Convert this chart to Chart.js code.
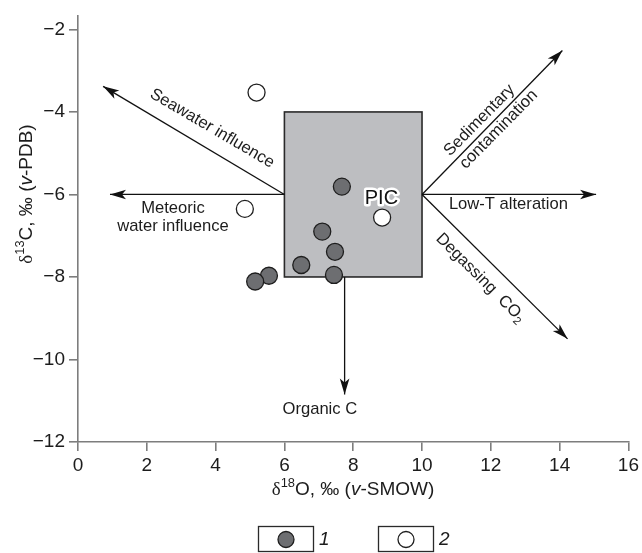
<!DOCTYPE html>
<html><head><meta charset="utf-8">
<script src="https://cdn.jsdelivr.net/npm/chart.js@4.4.0/dist/chart.umd.min.js"></script>
<style>html,body{margin:0;padding:0;background:#fff}canvas{display:block}</style>
</head><body>
<canvas id="c" width="642" height="553"></canvas>
<script>
// ---- data ----
const xTicks = [0, 2, 4, 6, 8, 10, 12, 14, 16];
const yTicks = [-12, -10, -8, -6, -4, -2];
const group1X = [7.67, 7.10, 7.47, 6.49, 7.44, 5.55, 5.15];
const group1Y = [-5.81, -6.90, -7.39, -7.71, -7.95, -7.97, -8.11];
const group2X = [5.19, 4.85, 8.84];
const group2Y = [-3.53, -6.35, -6.56];
const picBoxX = [6, 10];
const picBoxY = [-8, -4];
const arrowNames = ['Seawater influence', 'Meteoric water influence', 'Sedimentary contamination', 'Low-T alteration', 'Degassing CO2', 'Organic C'];
const arrowFromX = [6, 6, 10, 10, 10, 7.75];
const arrowFromY = [-6, -6, -6, -6, -6, -8];
const arrowToX = [0.73, 0.93, 14.08, 15.06, 14.23, 7.75];
const arrowToY = [-3.38, -6, -2.51, -6, -9.5, -10.85];
const legendLabels = ['1', '2'];

// ---- annotation text (data coords) ----
const notes = [
  {segs: [{t: 'Seawater influence'}], x: 3.92, y: -4.37, rot: 30.4},
  {segs: [{t: 'Meteoric'}], x: 2.76, y: -6.31, rot: 0},
  {segs: [{t: 'water influence'}], x: 2.76, y: -6.74, rot: 0},
  {segs: [{t: 'Sedimentary'}], x: 11.64, y: -4.18, rot: -45.5},
  {segs: [{t: 'contamination'}], x: 12.20, y: -4.40, rot: -45.5},
  {segs: [{t: 'Low-T alteration'}], x: 12.51, y: -6.20, rot: 0},
  {segs: [{t: 'Degassing  CO'}, {t: '2', sub: true}], x: 11.73, y: -8.0, rot: 45},
  {segs: [{t: 'Organic C'}], x: 7.03, y: -11.18, rot: 0}
];

const SANS = '"Liberation Sans", Arial, Helvetica, sans-serif';
const SERIF = '"Liberation Serif", "Times New Roman", serif';
const INK = '#1c1c1c';
const AXIS = '#7d7d7d';

function fontFor(s, size) {
  const sz = (s.sup || s.sub) ? size * 0.68 : size;
  return (s.i ? 'italic ' : '') + sz.toFixed(1) + 'px ' + (s.serif ? SERIF : SANS);
}
function drawRich(ctx, segs, cx, cy, rot, size, color, halo) {
  ctx.save();
  ctx.translate(cx, cy);
  ctx.rotate(rot * Math.PI / 180);
  const widths = segs.map(s => { ctx.font = fontFor(s, size); return ctx.measureText(s.t).width; });
  const total = widths.reduce((a, b) => a + b, 0);
  let xx = -total / 2;
  ctx.textBaseline = 'alphabetic';
  ctx.textAlign = 'left';
  segs.forEach((s, i) => {
    ctx.font = fontFor(s, size);
    let dy = size * 0.36;
    if (s.sup) dy -= size * 0.42;
    if (s.sub) dy += size * 0.22;
    if (halo) {
      ctx.strokeStyle = '#fff'; ctx.lineWidth = 5; ctx.lineJoin = 'round';
      ctx.strokeText(s.t, xx, dy);
    }
    ctx.fillStyle = color;
    ctx.fillText(s.t, xx, dy);
    xx += widths[i];
  });
  ctx.restore();
}
function arrowHead(ctx, x0, y0, x1, y1) {
  const dx = x1 - x0, dy = y1 - y0, len = Math.hypot(dx, dy);
  const ux = dx / len, uy = dy / len, nx = -uy, ny = ux;
  const L = 16, W = 4.8, N = 4;
  ctx.beginPath();
  ctx.moveTo(x1, y1);
  ctx.lineTo(x1 - ux * L + nx * W, y1 - uy * L + ny * W);
  ctx.lineTo(x1 - ux * (L - N), y1 - uy * (L - N));
  ctx.lineTo(x1 - ux * L - nx * W, y1 - uy * L - ny * W);
  ctx.closePath();
  ctx.fill();
}

const deco = {
  id: 'deco',
  beforeDatasetsDraw(chart) {
    const {ctx, scales: {x, y}} = chart;
    const x0 = x.getPixelForValue(picBoxX[0]), x1 = x.getPixelForValue(picBoxX[1]);
    const y0 = y.getPixelForValue(picBoxY[1]), y1 = y.getPixelForValue(picBoxY[0]);
    ctx.save();
    ctx.fillStyle = '#bdbec1';
    ctx.fillRect(x0, y0, x1 - x0, y1 - y0);
    ctx.strokeStyle = '#2a2a2a';
    ctx.lineWidth = 1.6;
    ctx.strokeRect(x0, y0, x1 - x0, y1 - y0);
    ctx.restore();
  },
  afterDatasetsDraw(chart) {
    const {ctx, scales: {x, y}} = chart;
    ctx.save();
    ctx.fillStyle = '#111';
    for (let i = 0; i < arrowToX.length; i++) {
      arrowHead(ctx, x.getPixelForValue(arrowFromX[i]), y.getPixelForValue(arrowFromY[i]),
        x.getPixelForValue(arrowToX[i]), y.getPixelForValue(arrowToY[i]));
    }
    ctx.restore();
    notes.forEach(n => drawRich(ctx, n.segs, x.getPixelForValue(n.x), y.getPixelForValue(n.y), n.rot, 16.6, INK));
    // PIC label
    drawRich(ctx, [{t: 'PIC'}], x.getPixelForValue(8.82), y.getPixelForValue(-6.06), 0, 20, '#111', true);
    // axis titles
    drawRich(ctx, [{t: 'δ', serif: true}, {t: '18', sup: true}, {t: 'O, ‰ ('}, {t: 'v', i: true}, {t: '-SMOW)'}],
      353, 488, 0, 19, INK);
    drawRich(ctx, [{t: 'δ', serif: true}, {t: '13', sup: true}, {t: 'C, ‰ ('}, {t: 'v', i: true}, {t: '-PDB)'}],
      25, 194, -90, 19, INK);
    // legend
    const ds = chart.data.datasets.filter(d => d.isGroup);
    const boxes = [[258, 313], [378, 433]];
    ctx.save();
    boxes.forEach((b, i) => {
      ctx.strokeStyle = '#2a2a2a'; ctx.lineWidth = 1.3;
      ctx.strokeRect(b[0] + 0.5, 526.5, b[1] - b[0], 25);
      const d = ds[i];
      ctx.beginPath();
      ctx.arc((b[0] + b[1]) / 2 + 0.5, 539.5, 8, 0, Math.PI * 2);
      ctx.fillStyle = d.backgroundColor; ctx.fill();
      ctx.strokeStyle = d.borderColor; ctx.lineWidth = d.borderWidth; ctx.stroke();
      ctx.fillStyle = INK;
      ctx.font = 'italic 19px ' + SANS;
      ctx.textBaseline = 'middle'; ctx.textAlign = 'left';
      ctx.fillText(legendLabels[i], b[1] + 6, 540);
    });
    ctx.restore();
  }
};

const arrowSets = arrowNames.map((name, i) => ({
  type: 'line',
  label: name,
  data: [{x: arrowFromX[i], y: arrowFromY[i]}, {x: arrowToX[i], y: arrowToY[i]}],
  borderColor: '#111',
  borderWidth: 1.3,
  pointRadius: 0,
  fill: false,
  order: 5,
  clip: false
}));

new Chart(document.getElementById('c'), {
  type: 'scatter',
  data: {
    datasets: [
      ...arrowSets,
      {
        label: '1', isGroup: true,
        data: group1X.map((v, i) => ({x: v, y: group1Y[i]})),
        backgroundColor: '#6d6e71', borderColor: '#1e1e1e', borderWidth: 1.3,
        pointRadius: 8.5, order: 0, clip: false
      },
      {
        label: '2', isGroup: true,
        data: group2X.map((v, i) => ({x: v, y: group2Y[i]})),
        backgroundColor: '#ffffff', borderColor: '#1e1e1e', borderWidth: 1.3,
        pointRadius: 8.5, order: 0, clip: false
      }
    ]
  },
  options: {
    responsive: false,
    animation: false,
    devicePixelRatio: 1,
    layout: {padding: {left: 0, right: 13, top: 15, bottom: 0}},
    plugins: {legend: {display: false}, tooltip: {enabled: false}},
    scales: {
      x: {
        type: 'linear', min: 0, max: 16,
        afterFit: s => { s.height = 111; },
        afterBuildTicks: s => { s.ticks = xTicks.map(v => ({value: v})); },
        border: {color: AXIS, width: 1.6},
        grid: {drawOnChartArea: false, drawTicks: true, tickLength: 9, color: AXIS, lineWidth: 1.6},
        ticks: {padding: 3, color: INK, font: {family: SANS, size: 19}}
      },
      y: {
        type: 'linear', min: -12, max: -1.66,
        afterFit: s => { s.width = 78; },
        afterBuildTicks: s => { s.ticks = yTicks.map(v => ({value: v})); },
        border: {color: AXIS, width: 1.6},
        grid: {drawOnChartArea: false, drawTicks: true, tickLength: 9, color: AXIS, lineWidth: 1.6},
        ticks: {padding: 4, color: INK, font: {family: SANS, size: 19},
          callback: v => String(v).replace('-', '\u2212')}
      }
    }
  },
  plugins: [deco]
});
</script>
</body></html>
